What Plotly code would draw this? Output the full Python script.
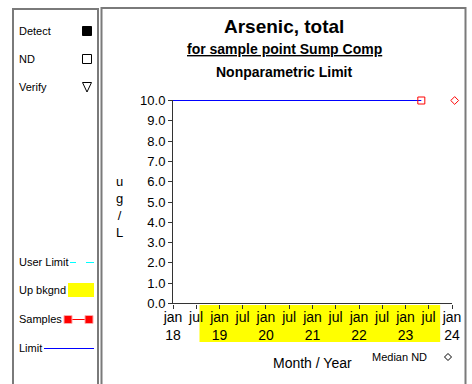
import plotly.graph_objects as go

# ---------------- data ----------------
sample_dates = ["2023-05-05"]
sample_values = [10.0]          # ND sample (open square)
limit_dates = ["2018-01-01", "2023-05-05"]
limit_values = [10.0, 10.0]
median_nd_dates = ["2024-01-22"]
median_nd_values = [10.0]
bkgnd_start = "2018-07-28"
bkgnd_end = "2023-09-30"
axis_start = "2018-01-01"
axis_end = "2024-01-01"
range_end = "2024-02-17"
x_tick_vals = ["2018-01-01", "2018-07-01", "2019-01-01", "2019-07-01", "2020-01-01",
               "2020-07-01", "2021-01-01", "2021-07-01", "2022-01-01", "2022-07-01",
               "2023-01-01", "2023-07-01", "2024-01-01"]
x_tick_text = ["jan<br>18", "jul", "jan<br>19", "jul", "jan<br>20", "jul", "jan<br>21",
               "jul", "jan<br>22", "jul", "jan<br>23", "jul", "jan<br>24"]
y_tick_vals = [0, 1, 2, 3, 4, 5, 6, 7, 8, 9, 10]

# ---------------- layout helpers ----------------
W, H = 472, 384
L, R, T, B = 173, 14, 100, 80
PW, PH = W - L - R, H - T - B
FONT = "Arial, Liberation Sans, sans-serif"
YPAD = 0.5 * 10 / PH   # half-pixel padding so 0 and 10 land on pixel centres


def px(x):
    return (x - L) / PW


def py(y):
    return (H - B - y) / PH


fig = go.Figure()

fig.add_trace(go.Scatter(x=limit_dates, y=limit_values, mode="lines",
                         line=dict(color="blue", width=1), hoverinfo="skip",
                         showlegend=False))
fig.add_trace(go.Scatter(x=sample_dates, y=sample_values, mode="markers+lines",
                         marker=dict(symbol="square-open", size=7, color="red",
                                     line=dict(width=1)),
                         line=dict(color="red", width=1), cliponaxis=False,
                         showlegend=False))
fig.add_trace(go.Scatter(x=median_nd_dates, y=median_nd_values, mode="markers",
                         marker=dict(symbol="diamond-open", size=6, color="red",
                                     line=dict(width=1)),
                         cliponaxis=False, showlegend=False))

shapes = []
# panel boxes
shapes.append(dict(type="rect", xref="paper", yref="paper",
                   x0=px(13), x1=px(98), y0=py(420), y1=py(9),
                   line=dict(color="#7a7a7a", width=2), layer="below"))
shapes.append(dict(type="rect", xref="paper", yref="paper",
                   x0=px(101.5), x1=px(465.5), y0=py(420), y1=py(8),
                   line=dict(color="#7a7a7a", width=2), layer="below"))
# background band under x-axis
shapes.append(dict(type="rect", xref="x", yref="paper",
                   x0=bkgnd_start, x1=bkgnd_end, y0=py(342), y1=py(305),
                   fillcolor="yellow", line=dict(width=0), layer="below"))
# x axis line (ends at last tick)
shapes.append(dict(type="line", xref="x", yref="y",
                   x0=axis_start, x1=axis_end, y0=0, y1=0,
                   line=dict(color="#333", width=1)))

# left legend symbols
def sq(cx, cy, s, fill, line_color, lw=1):
    return dict(type="rect", xref="paper", yref="paper",
                x0=px(cx - s / 2), x1=px(cx + s / 2),
                y0=py(cy + s / 2), y1=py(cy - s / 2),
                fillcolor=fill, line=dict(color=line_color, width=lw))

shapes.append(sq(87, 31, 9, "black", "black"))
shapes.append(sq(87, 59, 9, "white", "black"))
# down triangle (Verify)
tx = [px(82.5), px(91.5), px(87)]
ty = [py(82.5), py(82.5), py(92)]
shapes.append(dict(type="path", xref="paper", yref="paper",
                   path=f"M {tx[0]} {ty[0]} L {tx[1]} {ty[1]} L {tx[2]} {ty[2]} Z",
                   line=dict(color="black", width=1), fillcolor="white"))
# user limit dashed cyan
for a, b in [(70, 76), (86, 94)]:
    shapes.append(dict(type="line", xref="paper", yref="paper",
                       x0=px(a), x1=px(b), y0=py(262.5), y1=py(262.5),
                       line=dict(color="cyan", width=1)))
# up bkgnd rect
shapes.append(dict(type="rect", xref="paper", yref="paper",
                   x0=px(68), x1=px(94), y0=py(297), y1=py(283),
                   fillcolor="yellow", line=dict(width=0)))
# samples: line + two squares
shapes.append(dict(type="line", xref="paper", yref="paper",
                   x0=px(68), x1=px(89), y0=py(319.5), y1=py(319.5),
                   line=dict(color="red", width=1)))
shapes.append(sq(68, 319.5, 8, "red", "#ffaaaa"))
shapes.append(sq(89, 319.5, 8, "red", "#ffaaaa"))
# limit line
shapes.append(dict(type="line", xref="paper", yref="paper",
                   x0=px(44), x1=px(94), y0=py(348.5), y1=py(348.5),
                   line=dict(color="blue", width=1)))
# median ND diamond (legend)
dx, dy, r = 448, 357, 3.5
shapes.append(dict(type="path", xref="paper", yref="paper",
                   path=(f"M {px(dx)} {py(dy - r)} L {px(dx + r)} {py(dy)} "
                         f"L {px(dx)} {py(dy + r)} L {px(dx - r)} {py(dy)} Z"),
                   line=dict(color="black", width=1), fillcolor="white"))

annotations = []


def ann(text, x, y, size, xanchor="center", color="black"):
    annotations.append(dict(text=text, x=px(x), y=py(y), xref="paper", yref="paper",
                            xanchor=xanchor, yanchor="middle", showarrow=False,
                            font=dict(family=FONT, size=size, color=color)))


ann("<b>Arsenic, total</b>", 284, 27, 19)
ann("<b><u>for sample point Sump Comp</u></b>", 284, 49, 14)
ann("<b>Nonparametric Limit</b>", 284, 72, 14)
ann("u<br>g<br>/<br>L", 119, 207, 13)
ann("Month / Year", 312, 363, 14)
ann("Median ND", 399, 357, 11)
# left legend labels
for label, y in [("Detect", 31), ("ND", 59), ("Verify", 87), ("User Limit", 262),
                 ("Up bkgnd", 290), ("Samples", 319), ("Limit", 348)]:
    ann(label, 17, y, 11, xanchor="left")

fig.update_layout(
    width=W, height=H,
    margin=dict(l=L, r=R, t=T, b=B),
    paper_bgcolor="white", plot_bgcolor="white",
    font=dict(family=FONT, color="black"),
    shapes=shapes, annotations=annotations,
    showlegend=False,
)
fig.update_xaxes(type="date", range=[axis_start, range_end],
                 tickmode="array", tickvals=x_tick_vals, ticktext=x_tick_text,
                 tickfont=dict(size=14, family=FONT), ticks="outside", ticklen=4,
                 ticklabelstandoff=-4,
                 tickcolor="#333", showline=False,
                 showgrid=False, zeroline=False, fixedrange=True)
fig.update_yaxes(range=[-YPAD, 10 + YPAD], tickmode="array", tickvals=y_tick_vals,
                 tickformat=".1f", tickfont=dict(size=13, family=FONT),
                 ticks="outside", ticklen=4, tickcolor="#333", showline=True,
                 linecolor="#333", linewidth=1, showgrid=False, zeroline=False,
                 fixedrange=True)

fig.write_html("out.html", config={"displayModeBar": False},
               post_script="document.body.style.margin='0';")
